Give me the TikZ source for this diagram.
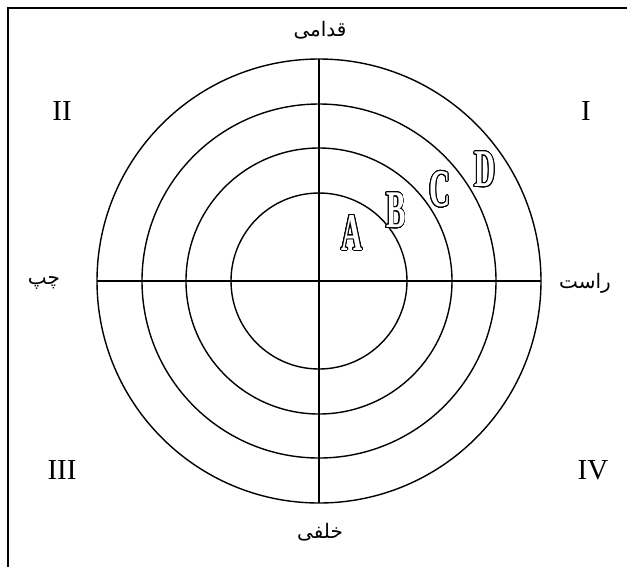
\documentclass[tikz,border=0pt]{standalone}
\usepackage{fontspec}
\setmainfont{Liberation Serif}
\newfontfamily\arabicfont[Script=Arabic]{DejaVu Sans}
\newfontfamily\zonefont{Liberation Serif}
\usepackage[copies]{contour}
\contourlength{1pt}
\contournumber{32}
\TeXXeTstate=1
\usetikzlibrary{positioning}
\tikzset{
ring/.style={line width=1.4pt},
axisline/.style={line width=1.4pt},
frameline/.style={line width=2.6pt},
quad/.style={font=\fontsize{29}{30}\selectfont,inner sep=0pt},
side/.style={font=\arabicfont\fontsize{20}{22}\selectfont,inner sep=0pt},
zone/.style={font=\zonefont\bfseries\fontsize{53}{53}\selectfont,inner sep=0pt},
}
\newcommand{\hollow}[1]{\scalebox{0.55}[1]{\contour{black}{\textcolor{white}{#1}}}}

\begin{document}
\begin{tikzpicture}[x=1pt,y=-1pt]
	\useasboundingbox (0,0) rectangle (627,566);
	\clip (0,0) rectangle (627,566);
	\draw[frameline] (8,8) rectangle (660,600);

	\coordinate (o) at (319,281);
	\foreach \r in {88,133,177,222}
		\draw[ring] (o) circle[radius=\r];
	\coordinate (top) at (319,59);
	\coordinate (bot) at (319,503);
	\coordinate (lft) at (97,281);
	\coordinate (rgt) at (541,281);
	\draw[axisline] (top) -- (bot);
	\draw[axisline] (lft) -- (rgt);

	% quadrants
	\node[quad] (q1) at (586,111) {I};
	\node[quad] (q2) at (62,111) {II};
	\node[quad] (q3) at (62,470) {III};
	\node[quad] (q4) at (593,470) {IV};

	% directions
	\node[side] (front) at (320,30) {\beginR قدامی\endR};
	\node[side] (back) at (320,532) {\beginR خلفی\endR};
	\node[side] (left) at (44,283) {\beginR چپ\endR};
	\node[side] (right) at (585,283) {\beginR راست\endR};

	% zones
	\node[zone] (za) at (352,233) {\hollow{A}};
	\node[zone] (zb) at (396,211) {\hollow{B}};
	\node[zone] (zc) at (440,190) {\hollow{C}};
	\node[zone] (zd) at (485,170) {\hollow{D}};
\end{tikzpicture}
\end{document}
